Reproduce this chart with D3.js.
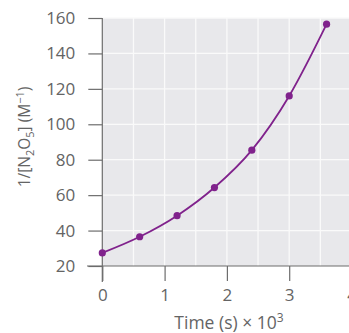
<!DOCTYPE html>
<html><head><meta charset="utf-8">
<script src="https://cdn.jsdelivr.net/npm/d3@7"></script>
<style>body{margin:0;background:#fff;}svg{display:block;}</style>
</head><body><svg id="c" width="349" height="333"></svg>
<script>
const timeK = [0, 0.6, 1.2, 1.8, 2.4, 3.0, 3.6];
const invConc = [27.4, 36.5, 48.4, 64.3, 85.4, 116, 156.5];
const yTicks = [20, 40, 60, 80, 100, 120, 140, 160];
const xTicks = [0, 1, 2, 3, 4];
const xGrid = [0.5, 1, 1.5, 2, 2.5, 3, 3.5, 4];

const svg = d3.select("#c");
const x = d3.scaleLinear().domain([0, 4]).range([102.3, 351.5]);
const y = d3.scaleLinear().domain([20, 160]).range([266, 18]);
const font = "'Open Sans', sans-serif";
const axisCol = "#6d6d6d", textCol = "#646464";

svg.append("rect").attr("x", x(0)).attr("y", y(160))
  .attr("width", 349 - x(0)).attr("height", y(20) - y(160)).attr("fill", "#e8e8eb");

svg.append("g").selectAll("line").data(yTicks.slice(1)).join("line")
  .attr("x1", x(0)).attr("x2", 349).attr("y1", d => y(d)).attr("y2", d => y(d))
  .attr("stroke", "#fafafa").attr("stroke-width", 1.3);
svg.append("g").selectAll("line").data(xGrid).join("line")
  .attr("x1", d => x(d)).attr("x2", d => x(d)).attr("y1", y(160)).attr("y2", y(20))
  .attr("stroke", "#fafafa").attr("stroke-width", 1.3);

// y axis
const ya = svg.append("g").attr("transform", `translate(${x(0)},0)`)
  .call(d3.axisLeft(y).tickValues(yTicks).tickSize(14).tickPadding(13).tickFormat(d3.format("d")));
ya.select(".domain").remove();
ya.append("line").attr("x1", 0).attr("x2", 0).attr("y1", y(160)).attr("y2", 282);
// x axis
const xa = svg.append("g").attr("transform", `translate(0,${y(20)})`)
  .call(d3.axisBottom(x).tickValues(xTicks).tickSize(15).tickPadding(8).tickFormat(d3.format("d")));
xa.select(".domain").remove();
xa.append("line").attr("x1", 87).attr("x2", 349).attr("y1", 0).attr("y2", 0);

[ya, xa].forEach(g => {
  g.selectAll("line").attr("stroke", axisCol).attr("stroke-width", 1.2);
  g.selectAll("text").attr("fill", textCol).attr("font-family", font).attr("font-size", 17);
});

// curve
const pts = timeK.map((t, i) => [t, invConc[i]]);
svg.append("path").datum(pts)
  .attr("d", d3.line().x(d => x(d[0])).y(d => y(d[1])).curve(d3.curveMonotoneX))
  .attr("fill", "none").attr("stroke", "#80228c").attr("stroke-width", 1.8);
svg.append("g").selectAll("circle").data(pts).join("circle")
  .attr("cx", d => x(d[0])).attr("cy", d => y(d[1])).attr("r", 3.6).attr("fill", "#80228c");

// labels
const yl = svg.append("text").attr("transform", "translate(30,137) rotate(-90)")
  .attr("text-anchor", "middle").attr("fill", textCol).attr("font-family", font).attr("font-size", 15.5);
yl.append("tspan").text("1/[N");
yl.append("tspan").text("2").attr("font-size", 11).attr("dy", 4);
yl.append("tspan").text("O").attr("dy", -4);
yl.append("tspan").text("5").attr("font-size", 11).attr("dy", 4);
yl.append("tspan").text("] (M").attr("dy", -4);
yl.append("tspan").text("−1").attr("font-size", 11).attr("dy", -6);
yl.append("tspan").text(")").attr("dy", 6);

const xl = svg.append("text").attr("x", 229).attr("y", 329)
  .attr("text-anchor", "middle").attr("fill", textCol).attr("font-family", font).attr("font-size", 17.5);
xl.append("tspan").text("Time (s) × 10");
xl.append("tspan").text("3").attr("font-size", 12).attr("dy", -7);
</script></body></html>
